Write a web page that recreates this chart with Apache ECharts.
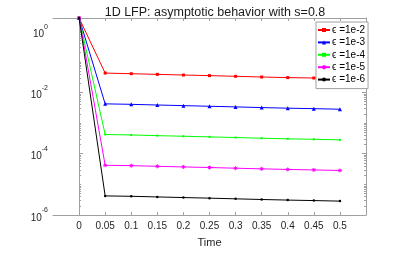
<!DOCTYPE html>
<html><head><meta charset="utf-8">
<script src="https://cdn.jsdelivr.net/npm/echarts@6/dist/echarts.min.js"></script>
<style>html,body{margin:0;padding:0;background:#fff}#c{width:405px;height:253px}</style>
</head><body><div id="c"></div>
<script>
var times = [0, 0.05, 0.1, 0.15, 0.2, 0.25, 0.3, 0.35, 0.4, 0.45, 0.5];
var seriesNames = ['\u03f5 =1e-2', '\u03f5 =1e-3', '\u03f5 =1e-4', '\u03f5 =1e-5', '\u03f5 =1e-6'];
var eps2 = [2.7, 0.0430, 0.0410, 0.0390, 0.0371, 0.0355, 0.0337, 0.0320, 0.0306, 0.0297, 0.0285];
var eps3 = [2.7, 0.00425, 0.00410, 0.00390, 0.00372, 0.00355, 0.00338, 0.00321, 0.00307, 0.00296, 0.00284];
var eps4 = [2.7, 4.25e-4, 4.10e-4, 3.90e-4, 3.72e-4, 3.55e-4, 3.38e-4, 3.21e-4, 3.07e-4, 2.96e-4, 2.84e-4];
var eps5 = [2.7, 4.20e-5, 4.08e-5, 3.89e-5, 3.71e-5, 3.55e-5, 3.37e-5, 3.21e-5, 3.07e-5, 2.96e-5, 2.84e-5];
var eps6 = [2.7, 4.20e-6, 4.08e-6, 3.89e-6, 3.71e-6, 3.55e-6, 3.37e-6, 3.21e-6, 3.07e-6, 2.96e-6, 2.84e-6];
var xTickLabels = ['0', '0.05', '0.1', '0.15', '0.2', '0.25', '0.3', '0.35', '0.4', '0.45', '0.5'];
var xTickValues = [0, 0.05, 0.1, 0.15, 0.2, 0.25, 0.3, 0.35, 0.4, 0.45, 0.5];
var yMajorTicks = [1e-6, 1e-4, 1e-2, 1];

var colors = ['#ff0000', '#0000ff', '#00ff00', '#ff00ff', '#000000'];
var symbols = ['rect', 'triangle', 'rect', 'path://M0,-5L0,5M-5,0L5,0M-3.5,-3.5L3.5,3.5M-3.5,3.5L3.5,-3.5', 'circle'];
var symSizes = [3, 4, 2, 4, 2.5];
var allData = [eps2, eps3, eps4, eps5, eps6];

var yMinor = [];
for (var e = -6; e <= 0; e++) {
  for (var k = 1; k <= 9; k++) {
    var v = k * Math.pow(10, e);
    if (v > 2.7) break;
    if (k === 1 && e % 2 === 0) continue;
    yMinor.push(v);
  }
}

var axisColor = '#a0a0a0';
var textColor = '#262626';

function mkSeries(i) {
  var d = [];
  for (var j = 0; j < times.length; j++) d.push([times[j], allData[i][j]]);
  return {
    name: seriesNames[i], type: 'line', data: d,
    xAxisIndex: 0, yAxisIndex: 0,
    symbol: symbols[i], symbolSize: symSizes[i],
    lineStyle: { color: colors[i], width: 1 },
    itemStyle: { color: colors[i], borderColor: colors[i], borderWidth: i === 3 ? 1 : 0 },
    animation: false, z: 2 + i * 0.1
  };
}

var chart = echarts.init(document.getElementById('c'), null, { renderer: 'canvas' });
var yBase = { type: 'log', logBase: 10, min: 1e-6, max: 2.7, interval: 2, splitLine: { show: false } };
chart.setOption({
  animation: false,
  title: {
    text: '1D LFP: asymptotic behavior with s=0.8', left: 210, top: 1, textAlign: 'center',
    textStyle: { fontFamily: 'Liberation Sans', fontSize: 12.5, fontWeight: 'normal', color: '#1a1a1a' }
  },
  grid: { left: 53, right: 39, top: 18, bottom: 33 },
  legend: {
    orient: 'vertical', left: 316, top: 22, itemWidth: 12, itemHeight: 5, itemGap: 2.4,
    padding: [3, 3, 4, 1], backgroundColor: '#fff', borderColor: '#a0a0a0', borderWidth: 1,
    borderRadius: 0, z: 30,
    textStyle: { fontFamily: 'Liberation Sans', fontSize: 10, color: '#000', padding: [0, 0, 0, -3] },
    data: seriesNames
  },
  xAxis: [
    {
      type: 'value', min: -0.05, max: 0.55, interval: 0.05, position: 'bottom',
      name: 'Time', nameLocation: 'middle', nameGap: 22,
      nameTextStyle: { fontFamily: 'Liberation Sans', fontSize: 11, color: textColor },
      axisLine: { show: true, lineStyle: { color: axisColor } },
      axisTick: { show: true, inside: true, length: 3, customValues: xTickValues, lineStyle: { color: axisColor } },
      axisLabel: { customValues: xTickValues, fontFamily: 'Liberation Sans', fontSize: 10, color: textColor, margin: 6,
        formatter: function (v) { var idx = Math.round(v / 0.05); return xTickLabels[idx] !== undefined ? xTickLabels[idx] : ''; } },
      splitLine: { show: false }
    },
    {
      type: 'value', min: -0.05, max: 0.55, position: 'top',
      axisLine: { show: true, lineStyle: { color: axisColor } },
      axisTick: { show: true, inside: true, length: 3, customValues: xTickValues, lineStyle: { color: axisColor } },
      axisLabel: { show: false }, splitLine: { show: false }
    }
  ],
  yAxis: [
    Object.assign({}, yBase, {
      position: 'left',
      axisLine: { show: true, lineStyle: { color: axisColor } },
      axisTick: { show: true, inside: true, length: 4, customValues: yMajorTicks, lineStyle: { color: axisColor } },
      axisLabel: {
        customValues: yMajorTicks, margin: 5,
        formatter: function (v) {
          var ex = Math.round(Math.log(v) / Math.LN10);
          return '{b|10}{s|' + ex + '}';
        },
        rich: {
          b: { fontFamily: 'Liberation Sans', fontSize: 10, color: textColor, verticalAlign: 'bottom', padding: [6, 0, 0, 0] },
          s: { fontFamily: 'Liberation Sans', fontSize: 7, color: textColor, verticalAlign: 'top', padding: [0, 0, 5, 0] }
        }
      }
    }),
    Object.assign({}, yBase, {
      position: 'left',
      axisLine: { show: false },
      axisTick: { show: true, inside: true, length: 2, customValues: yMinor, lineStyle: { color: axisColor } },
      axisLabel: { show: false }
    }),
    Object.assign({}, yBase, {
      position: 'right',
      axisLine: { show: true, lineStyle: { color: axisColor } },
      axisTick: { show: true, inside: true, length: 4, customValues: yMajorTicks, lineStyle: { color: axisColor } },
      axisLabel: { show: false }
    }),
    Object.assign({}, yBase, {
      position: 'right',
      axisLine: { show: false },
      axisTick: { show: true, inside: true, length: 2, customValues: yMinor, lineStyle: { color: axisColor } },
      axisLabel: { show: false }
    })
  ],
  series: [mkSeries(0), mkSeries(1), mkSeries(2), mkSeries(3), mkSeries(4)]
});
</script>
</body></html>
